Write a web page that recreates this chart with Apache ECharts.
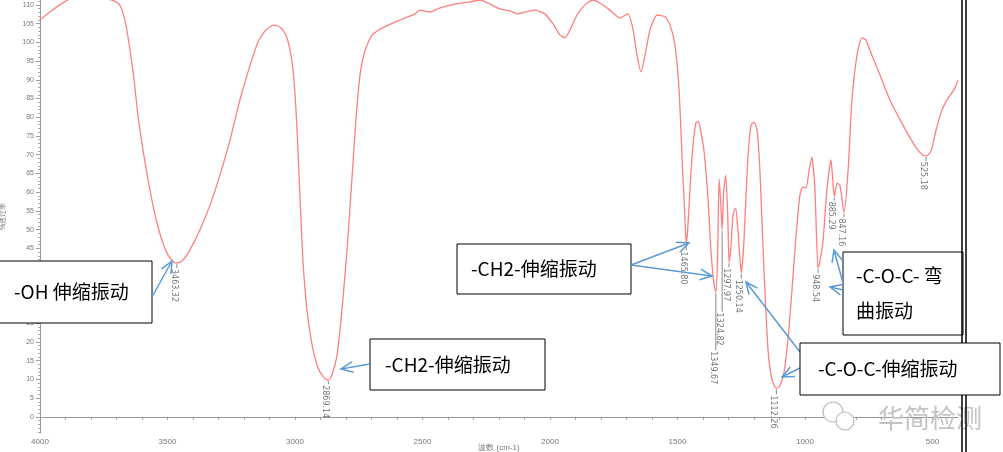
<!DOCTYPE html>
<html>
<head>
<meta charset="utf-8">
<script src="https://cdn.jsdelivr.net/npm/echarts@6/dist/echarts.min.js"></script>
<style>
  html, body { margin: 0; padding: 0; background: #fff; }
  #chart { width: 1003px; height: 452px; }
</style>
</head>
<body>
<div id="chart"></div>
<script>
// 红外光谱：波数 (cm-1) 与 透过率 (%)
const wavenumbers = [
  4000, 3961, 3922, 3882, 3843, 3784, 3725, 3694, 3678, 3663, 3647, 3631, 3616, 3596, 3576,
  3549, 3522, 3498, 3475, 3463, 3443, 3412, 3373, 3333, 3294, 3255, 3216, 3176, 3145, 3114,
  3082, 3059, 3035, 3016, 3004, 2992, 2980, 2969, 2953, 2933, 2910, 2886, 2869, 2855, 2835,
  2816, 2796, 2777, 2761, 2745, 2725, 2698, 2659, 2608, 2569, 2529, 2510, 2471, 2431, 2373,
  2314, 2274, 2235, 2196, 2157, 2125, 2098, 2059, 2020, 1988, 1961, 1941, 1922, 1894, 1863,
  1831, 1804, 1765, 1725, 1694, 1674, 1659, 1643, 1627, 1608, 1580, 1549, 1529, 1510, 1494,
  1480, 1472, 1466, 1460, 1450, 1440, 1428, 1418, 1408, 1396, 1380, 1369, 1357, 1350, 1343,
  1337, 1331, 1325, 1319, 1311, 1303, 1298, 1291, 1282, 1272, 1263, 1250, 1240, 1225, 1212,
  1200, 1188, 1176, 1161, 1145, 1129, 1112, 1098, 1082, 1067, 1051, 1035, 1020, 1008, 996,
  984, 973, 961, 949, 941, 929, 914, 898, 885, 874, 863, 847, 831, 816, 796,
  777, 761, 738, 706, 667, 627, 588, 557, 540, 525, 510, 502, 486, 463, 439,
  416, 400
];
const transmittance = [
  106.0, 108.1, 110.0, 111.6, 112.0, 112.0, 111.4, 110.5, 108.6, 104.6, 97.9, 89.9, 80.6, 71.2, 63.2,
  53.9, 47.2, 43.2, 41.3, 41.1, 41.6, 44.6, 49.9, 56.6, 64.6, 73.9, 84.6, 93.9, 100.1, 103.3,
  104.6, 104.1, 101.9, 96.6, 89.9, 76.6, 57.9, 41.9, 28.5, 19.2, 13.1, 10.4, 9.8, 11.2, 16.5,
  28.5, 44.5, 63.2, 79.3, 91.3, 97.9, 101.9, 103.8, 105.4, 106.5, 107.6, 108.6, 108.1, 109.2, 110.2,
  110.8, 111.3, 110.2, 108.9, 108.4, 107.6, 108.1, 108.6, 107.6, 104.9, 102.0, 101.2, 103.3, 107.3, 110.0,
  111.3, 110.5, 108.6, 106.5, 107.6, 103.3, 96.6, 92.1, 96.6, 103.3, 107.3, 106.8, 104.6, 99.3, 87.3,
  66.0, 55.0, 46.3, 50.0, 62.0, 72.0, 78.5, 78.8, 76.0, 71.0, 58.0, 44.5, 35.5, 33.3, 42.0,
  63.5, 58.0, 50.0, 60.0, 64.5, 54.0, 41.3, 45.0, 54.0, 55.7, 50.0, 38.5, 46.0, 68.0, 77.8,
  78.7, 76.6, 64.6, 39.2, 17.9, 9.8, 7.6, 8.3, 12.0, 20.5, 33.9, 48.5, 59.2, 61.4, 61.1,
  65.8, 69.4, 60.6, 39.7, 41.5, 47.2, 60.6, 68.6, 58.8, 62.4, 61.8, 54.6, 65.8, 84.6, 96.6,
  101.2, 100.6, 96.6, 91.3, 84.6, 79.3, 74.5, 71.2, 70.0, 69.7, 70.5, 71.8, 76.6, 81.9, 85.1,
  87.3, 89.9
];

// 峰位标注
const peakWavenumbers = [3463.32, 2869.14, 1465.80, 1349.67, 1324.82, 1297.97, 1250.14, 1112.26, 948.54, 885.29, 847.16, 525.18];
const peakTransmittance = [41.1, 9.8, 46.3, 33.3, 50.0, 41.3, 38.5, 7.6, 39.7, 58.8, 54.6, 69.7];
const peakLabels = ['3463.32', '2869.14', '1465.80', '1349.67', '1324.82', '1297.97', '1250.14', '1112.26', '948.54', '885.29', '847.16', '525.18'];
// 引线长度（像素）
const peakDrops = [5, 4, 7, 58, 82, 5, 6, 6, 5, 4, 5, 5];

const xLabelValues = [4000, 3500, 3000, 2500, 2000, 1500, 1000, 500];
const yLabelValues = [0, 5, 10, 15, 20, 25, 30, 35, 40, 45, 50, 55, 60, 65, 70, 75, 80, 85, 90, 95, 100, 105, 110];

const xMinorTicks = [];
for (let v = 500; v <= 4000; v += 100) xMinorTicks.push(v);
const yMinorTicks = [];
for (let v = -4; v <= 111; v += 1) yMinorTicks.push(v);

const spectrum = wavenumbers.map((w, i) => [w, transmittance[i]]);
const peaks = peakWavenumbers.map((w, i) => [w, peakTransmittance[i], peakDrops[i]]);

const ARROW = '#5b9bd5';
const LABEL_GRAY = '#777';

function arrow(x1, y1, x2, y2) {
  const a = Math.atan2(y1 - y2, x1 - x2);
  const len = 13, spread = 0.42;
  return [
    { type: 'line', z: 20, shape: { x1, y1, x2, y2 }, style: { stroke: ARROW, lineWidth: 1.5 } },
    {
      type: 'polyline', z: 20,
      shape: { points: [
        [x2 + len * Math.cos(a + spread), y2 + len * Math.sin(a + spread)],
        [x2, y2],
        [x2 + len * Math.cos(a - spread), y2 + len * Math.sin(a - spread)]
      ] },
      style: { stroke: ARROW, lineWidth: 1.5, fill: null }
    }
  ];
}

function box(x, y, w, h, lines, tx, lineGap, z) {
  const els = [{
    type: 'rect', z: z, shape: { x, y, width: w, height: h },
    style: { fill: '#fff', stroke: '#000', lineWidth: 1 }
  }];
  lines.forEach((t, i) => {
    els.push({
      type: 'text', z: z + 1, x: tx, y: y + h / 2 + (i - (lines.length - 1) / 2) * lineGap,
      style: { text: t, fill: '#000', font: '19px "Noto Sans CJK SC", sans-serif', verticalAlign: 'middle' }
    });
  });
  return els;
}

const chart = echarts.init(document.getElementById('chart'), null, { renderer: 'canvas' });

chart.setOption({
  animation: false,
  backgroundColor: '#fff',
  grid: { left: 40, right: 45, top: 0, bottom: 19, outerBoundsMode: 'none' },
  xAxis: {
    type: 'value',
    inverse: true,
    min: 400,
    max: 4000,
    name: '波数 (cm-1)',
    nameLocation: 'middle',
    nameGap: 11,
    nameMoveOverlap: false,
    nameTextStyle: { color: LABEL_GRAY, fontSize: 8 },
    axisLine: { show: true, lineStyle: { color: '#999', width: 1 } },
    axisTick: { show: true, length: 3, customValues: xMinorTicks, lineStyle: { color: '#999' } },
    axisLabel: { customValues: xLabelValues, color: LABEL_GRAY, fontSize: 8, margin: 5, formatter: (v) => String(v) },
    splitLine: { show: false }
  },
  yAxis: [
    {
      type: 'value',
      min: -4.3,
      max: 111.3,
      name: '%透过率',
      nameLocation: 'middle',
      nameGap: 33,
      nameMoveOverlap: false,
      nameRotate: 90,
      nameTextStyle: { color: LABEL_GRAY, fontSize: 7 },
      axisLine: { show: true, lineStyle: { color: '#999', width: 1 } },
      axisTick: { show: true, length: 4, customValues: yLabelValues, lineStyle: { color: '#999' } },
      axisLabel: { customValues: yLabelValues, color: LABEL_GRAY, fontSize: 7, margin: 6, formatter: (v) => String(v) },
      splitLine: { show: false }
    },
    {
      type: 'value',
      min: -4.3,
      max: 111.3,
      position: 'left',
      axisLine: { show: false },
      axisTick: { show: true, length: 2, customValues: yMinorTicks, lineStyle: { color: '#aaa' } },
      axisLabel: { show: false },
      splitLine: { show: false }
    }
  ],
  series: [
    {
      type: 'line',
      data: spectrum,
      showSymbol: false,
      smooth: 0.2,
      clip: true,
      lineStyle: { color: '#ff7f7f', width: 1.3 },
      z: 3
    },
    {
      type: 'custom',
      data: peaks,
      z: 4,
      renderItem: function (params, api) {
        const p = api.coord([api.value(0), api.value(1)]);
        const drop = api.value(2);
        const text = peakLabels[params.dataIndex];
        return {
          type: 'group',
          children: [
            { type: 'line', shape: { x1: p[0], y1: p[1] + 1, x2: p[0], y2: p[1] + drop }, style: { stroke: '#888', lineWidth: 1 } },
            {
              type: 'text', x: p[0] + 1, y: p[1] + drop + 1, rotation: -Math.PI / 2,
              style: { text: text, fill: LABEL_GRAY, font: '8px "DejaVu Sans", sans-serif', align: 'left', verticalAlign: 'top' }
            }
          ]
        };
      }
    }
  ],
  graphic: [
    // 右侧黑色边框线
    { type: 'line', z: 30, shape: { x1: 962, y1: 0, x2: 962, y2: 452 }, style: { stroke: '#000', lineWidth: 1.5 } },
    { type: 'line', z: 30, shape: { x1: 966, y1: 0, x2: 966, y2: 452 }, style: { stroke: '#000', lineWidth: 1.5 } },
    ...box(-1, 261, 153, 62, ['-OH 伸缩振动'], 14, 0, 10),
    ...box(370, 339, 175, 51, ['-CH2-伸缩振动'], 385, 0, 10),
    ...box(457, 244, 174, 50, ['-CH2-伸缩振动'], 471, 0, 10),
    ...box(843, 252, 120, 83, ['-C-O-C- 弯', '曲振动'], 856, 35, 10),
    ...box(800, 343, 200, 52, ['-C-O-C-伸缩振动'], 818, 0, 40),
    ...arrow(152, 297, 172, 261),
    ...arrow(370, 364, 341, 369),
    ...arrow(631, 265, 689, 243),
    ...arrow(631, 265, 712, 276),
    ...arrow(800, 352, 746, 282),
    ...arrow(800, 368, 782, 377),
    ...arrow(843, 283, 834, 250),
    ...arrow(843, 290, 830, 287),
    // 水印
    { type: 'circle', z: 15, shape: { cx: 833, cy: 412, r: 10 }, style: { fill: '#fff', stroke: '#bbb', lineWidth: 1.2 } },
    { type: 'circle', z: 15, shape: { cx: 845, cy: 421, r: 9 }, style: { fill: '#fff', stroke: '#bbb', lineWidth: 1.2 } },
    { type: 'text', z: 15, x: 878, y: 418, style: { text: '华简检测', fill: '#c4c4c4', font: '26px "Noto Sans CJK SC", sans-serif', verticalAlign: 'middle' } }
  ]
});
</script>
</body>
</html>
